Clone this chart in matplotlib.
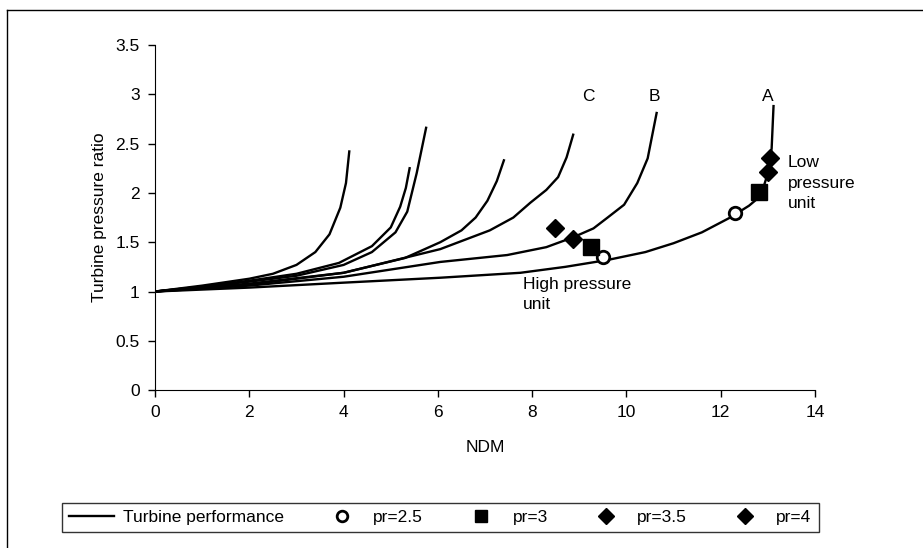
import matplotlib.pyplot as plt
from matplotlib.lines import Line2D

plt.rcParams['font.family'] = ['Liberation Sans', 'DejaVu Sans']

# turbine performance curves (NDM, pressure ratio), left to right
c1_x = [0, 1, 2, 2.5, 3.0, 3.4, 3.7, 3.93, 4.05, 4.12]
c1_y = [1, 1.06, 1.13, 1.18, 1.27, 1.40, 1.58, 1.85, 2.1, 2.42]
c2_x = [0, 1, 2, 3, 3.9, 4.6, 5.0, 5.2, 5.32, 5.4]
c2_y = [1, 1.05, 1.11, 1.18, 1.29, 1.46, 1.65, 1.86, 2.05, 2.25]
c3_x = [0, 1, 2, 3, 4, 4.6, 5.1, 5.35, 5.55, 5.75]
c3_y = [1, 1.05, 1.10, 1.16, 1.27, 1.40, 1.60, 1.81, 2.2, 2.66]
c4_x = [0, 2, 4, 5.3, 6.05, 6.5, 6.8, 7.05, 7.25, 7.4]
c4_y = [1, 1.08, 1.19, 1.34, 1.5, 1.62, 1.75, 1.92, 2.12, 2.33]
cC_x = [0, 2, 4, 6.05, 7.1, 7.6, 7.96, 8.3, 8.55, 8.73, 8.87]
cC_y = [1, 1.07, 1.19, 1.43, 1.62, 1.75, 1.9, 2.03, 2.16, 2.36, 2.59]
cB_x = [0, 2, 4, 6.05, 7.47, 8.3, 8.87, 9.3, 9.6, 9.95, 10.23, 10.45, 10.64]
cB_y = [1, 1.06, 1.15, 1.30, 1.37, 1.45, 1.55, 1.64, 1.75, 1.88, 2.1, 2.35, 2.81]
cA_x = [0, 2, 4, 6.05, 7.75, 8.7, 9.6, 10.4, 11.0, 11.6, 12.2, 12.6, 12.85, 13.0, 13.08, 13.12]
cA_y = [1, 1.04, 1.09, 1.14, 1.19, 1.25, 1.32, 1.40, 1.49, 1.60, 1.75, 1.87, 1.97, 2.2, 2.45, 2.88]
curves = [(c1_x, c1_y), (c2_x, c2_y), (c3_x, c3_y), (c4_x, c4_y),
          (cC_x, cC_y), (cB_x, cB_y), (cA_x, cA_y)]

# operating points
pr25_x = [9.51, 12.31]
pr25_y = [1.35, 1.80]
pr3_x = [9.24, 12.82]
pr3_y = [1.45, 2.01]
pr35_x = [8.87, 13.0]
pr35_y = [1.53, 2.21]
pr4_x = [8.48, 13.05]
pr4_y = [1.64, 2.35]

fig = plt.figure(figsize=(9.23, 5.48), dpi=100)
ax = fig.add_axes([0.168, 0.288, 0.715, 0.63])

for i, (x, y) in enumerate(curves):
    ax.plot(x, y, color='black', lw=1.7, solid_joinstyle='round',
            label='Turbine performance' if i == 0 else None)

ax.plot(pr25_x, pr25_y, 'o', ms=9, mfc='white', mec='black', mew=2, label='pr=2.5')
ax.plot(pr3_x, pr3_y, 's', ms=11, color='black', label='pr=3')
ax.plot(pr35_x, pr35_y, 'D', ms=9, color='black', label='pr=3.5')
ax.plot(pr4_x, pr4_y, 'D', ms=9, color='black', label='pr=4')

ax.text(9.2, 2.98, 'C', fontsize=12.5, ha='center', va='center')
ax.text(10.6, 2.98, 'B', fontsize=12.5, ha='center', va='center')
ax.text(13.0, 2.98, 'A', fontsize=12.5, ha='center', va='center')
ax.text(13.42, 2.1, 'Low\npressure\nunit', fontsize=12.5, ha='left', va='center',
        linespacing=1.45)
ax.text(7.8, 0.97, 'High pressure\nunit', fontsize=12.5, ha='left', va='center',
        linespacing=1.45)

ax.set_xlim(0, 14)
ax.set_ylim(0, 3.5)
ax.set_xticks(range(0, 15, 2))
ax.set_yticks([0, 0.5, 1, 1.5, 2, 2.5, 3, 3.5])
ax.set_yticklabels(['0', '0.5', '1', '1.5', '2', '2.5', '3', '3.5'])
ax.tick_params(labelsize=12.5, length=5, width=1, direction='out', pad=6)
ax.spines['top'].set_visible(False)
ax.spines['right'].set_visible(False)
ax.set_xlabel('NDM', fontsize=12.5, labelpad=14)
ax.set_ylabel('Turbine pressure ratio', fontsize=12.5, labelpad=6)

leg = fig.legend(loc='center', bbox_to_anchor=(0.477, 0.056), ncol=5, fontsize=12.5,
                 frameon=True, fancybox=False, edgecolor='black', handlelength=2.6,
                 columnspacing=2.05, handletextpad=0.5, borderpad=0.4, markerscale=0.85)
leg.get_frame().set_linewidth(1)

# outer chart frame
fig.add_artist(Line2D([0.008, 0.008], [0, 0.982], color='black', lw=1))
fig.add_artist(Line2D([0.008, 1], [0.982, 0.982], color='black', lw=1))

fig.savefig('out.png', dpi=100)
